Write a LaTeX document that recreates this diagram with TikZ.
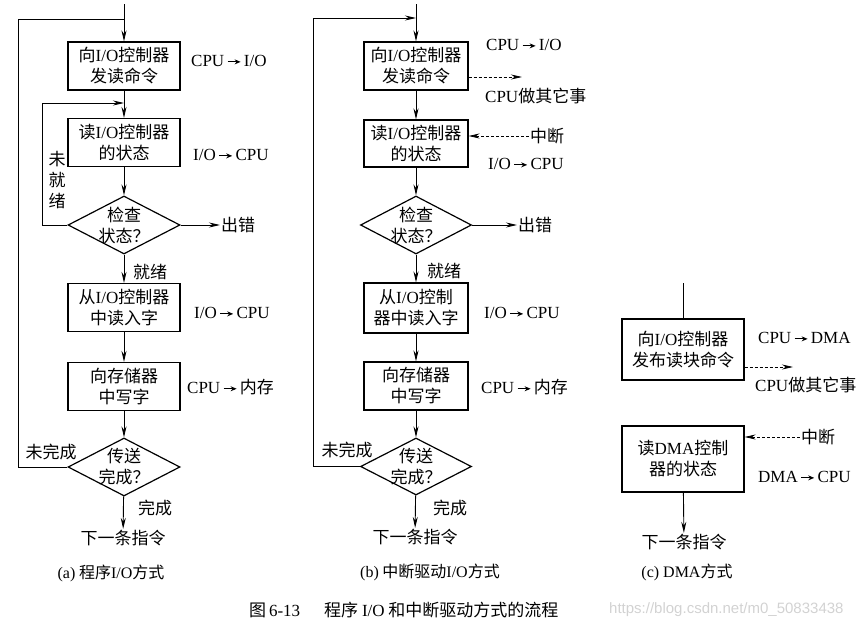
\documentclass[tikz,border=0pt]{standalone}
\usepackage{fontspec}
\setmainfont{Noto Sans CJK SC}
\newfontfamily\en{Liberation Serif}
\newfontfamily\wm{Liberation Sans}
\newcommand\lat[1]{{\en #1}}
\newcommand\fs{\fontsize{17}{21}\selectfont}
\newcommand\ra{\,\tikz[baseline=-0.6ex]\draw[line width=1pt,-{Stealth[length=6pt,width=5pt]}] (0pt,0pt) -- (13pt,0pt);\,}
\usetikzlibrary{shapes.geometric,arrows.meta}

\tikzset{
  proc/.style={draw, line width=1.2pt, minimum height=48pt, inner sep=2pt, align=center},
  decide/.style={draw, diamond, line width=1.2pt, aspect=1.93, minimum width=112pt,
    minimum height=58pt, inner sep=-8pt, align=center},
  lbl/.style={inner sep=1pt, align=center},
  wire/.style={line width=0.9pt},
  flow/.style={line width=0.9pt, -{Stealth[length=11pt,width=5pt]}},
  soft/.style={line width=0.8pt, dash pattern=on 3pt off 2pt, -{Stealth[length=11pt,width=5pt]}},
}

\begin{document}
\begin{tikzpicture}[x=1pt, y=-1pt, font=\fs]
    \useasboundingbox (0,0) rectangle (865,632);

    % (a) programmed I/O
    \coordinate (a0) at (124,4);
    \coordinate (aj) at (124,19);
    \coordinate (aloop) at (124,103);
    \node[proc, minimum width=112pt] (a1) at (124,66) {向\lat{I/O}控制器\\发读命令};
    \node[proc, minimum width=112pt] (a2) at (124,142.5) {读\lat{I/O}控制器\\的状态};
    \node[decide] (ad1) at (124,225) {检查\\状态？};
    \node[proc, minimum width=112pt] (a3) at (124,307.5) {从\lat{I/O}控制器\\中读入字};
    \node[proc, minimum width=112pt] (a4) at (124,386.5) {向存储器\\中写字};
    \node[decide] (ad2) at (124,467) {传送\\完成？};
    \node[lbl] (anext) at (123,538) {下一条指令};
    \node[lbl] (aerr) [anchor=west] at (220,225) {出错};

    \node[lbl, anchor=west] (acmd) at (190,61) {\lat{CPU\ra I/O}};
    \node[lbl, anchor=west] (ast) at (192,155) {\lat{I/O\ra CPU}};
    \node[lbl, anchor=west] (ain) at (193,313) {\lat{I/O\ra CPU}};
    \node[lbl, anchor=west] (amem) at (186,387) {\lat{CPU\ra}内存};
    \node[lbl] (anr) at (57,180) {未\\就\\绪};
    \node[lbl, anchor=west] (ardy) at (132,272) {就绪};
    \node[lbl] (aund) at (51,452) {未完成};
    \node[lbl, anchor=west] (adone) at (137,508) {完成};
    \node[lbl, font=\fontsize{16}{19}\selectfont] (acap) at (111,573) {\lat{(a)} 程序\lat{I/O}方式};

    \draw[flow] (a0) -- (a1);
    \draw[flow] (a1) -- (a2);
    \draw[flow] (a2) -- (ad1);
    \draw[flow] (ad1) -- (aerr);
    \draw[flow] (ad1.west) -- ++(-25,0) |- (aloop);
    \draw[flow] (ad1) -- (a3);
    \draw[flow] (a3) -- (a4);
    \draw[flow] (a4) -- (ad2);
    \draw[flow] (ad2) -- (anext);
    \draw[wire] (ad2.west) -- ++(-49,0) |- (aj);

    % (b) interrupt driven I/O
    \coordinate (b0) at (416,4);
    \coordinate (bj) at (416,18);
    \coordinate (bdo) at (522,77);
    \node[proc, minimum width=104pt] (b1) at (416,66) {向\lat{I/O}控制器\\发读命令};
    \node[proc, minimum width=104pt, minimum height=47pt] (b2) at (416,143.5) {读\lat{I/O}控制器\\的状态};
    \node[decide, minimum width=111pt] (bd1) at (416,225) {检查\\状态？};
    \node[proc, minimum width=104pt, minimum height=50pt] (b3) at (416,308) {从\lat{I/O}控制\\器中读入字};
    \node[proc, minimum width=104pt] (b4) at (416,386) {向存储器\\中写字};
    \node[decide, minimum width=111pt, minimum height=57pt] (bd2) at (416,466.5) {传送\\完成？};
    \node[lbl] (bnext) at (415,537) {下一条指令};
    \node[lbl, anchor=west] (berr) at (517,225) {出错};
    \node[lbl] (bint) at (547,136) {中断};

    \node[lbl, anchor=west] (bcmd) at (485,45) {\lat{CPU\ra I/O}};
    \node[lbl, anchor=west] (bfree) at (484,96) {\lat{CPU}做其它事};
    \node[lbl, anchor=west] (bst) at (487,164) {\lat{I/O\ra CPU}};
    \node[lbl, anchor=west] (bin) at (483,313) {\lat{I/O\ra CPU}};
    \node[lbl, anchor=west] (bmem) at (480,387) {\lat{CPU\ra}内存};
    \node[lbl, anchor=west] (brdy) at (426,271) {就绪};
    \node[lbl] (bund) at (347,450) {未完成};
    \node[lbl, anchor=west] (bdone) at (432,508) {完成};
    \node[lbl, font=\fontsize{16}{19}\selectfont] (bcap) at (430,572) {\lat{(b)} 中断驱动\lat{I/O}方式};

    \draw[flow] (b0) -- (b1);
    \draw[soft] ([yshift=-11pt]b1.east) -- (bdo);
    \draw[flow] (b1) -- (b2);
    \draw[soft] (bint) -- ([yshift=7.5pt]b2.east);
    \draw[flow] (b2) -- (bd1);
    \draw[flow] (bd1) -- (berr);
    \draw[flow] (bd1) -- (b3);
    \draw[flow] (b3) -- (b4);
    \draw[flow] (b4) -- (bd2);
    \draw[flow] (bd2) -- (bnext);
    \draw[flow] (bd2.west) -- ++(-46,0) |- (bj);

    % (c) DMA
    \coordinate (c0) at (683,283);
    \coordinate (cdo) at (793,367);
    \node[proc, minimum width=122pt, minimum height=61pt] (c1) at (683,349.5) {向\lat{I/O}控制器\\发布读块命令};
    \node[proc, minimum width=122pt, minimum height=66pt] (c2) at (683,459) {读\lat{DMA}控制\\器的状态};
    \node[lbl] (cnext) at (684,542) {下一条指令};
    \node[lbl] (cint) at (818,437) {中断};

    \node[lbl, anchor=west] (ccmd) at (757,338) {\lat{CPU\ra DMA}};
    \node[lbl, anchor=west] (cfree) at (754,385) {\lat{CPU}做其它事};
    \node[lbl, anchor=west] (cst) at (757,477) {\lat{DMA\ra CPU}};
    \node[lbl, font=\fontsize{16}{19}\selectfont] (ccap) at (687,572) {\lat{(c) DMA}方式};

    \draw[wire] (c0) -- (c1);
    \draw[soft] ([yshift=-17.5pt]c1.east) -- (cdo);
    \draw[soft] (cint) -- ([yshift=22pt]c2.east);
    \draw[flow] (c2) -- (cnext);

    % caption
    \node[lbl, anchor=west] (cap) at (248,610) {图\,\lat{6-13}\hspace{24pt}程序 \lat{I/O} 和中断驱动方式的流程};
    \node[lbl, anchor=west, text=gray!35, font=\wm\fontsize{15}{18}\selectfont] (mark) at (608,610) {https://blog.csdn.net/m0\_50833438};
\end{tikzpicture}
\end{document}
